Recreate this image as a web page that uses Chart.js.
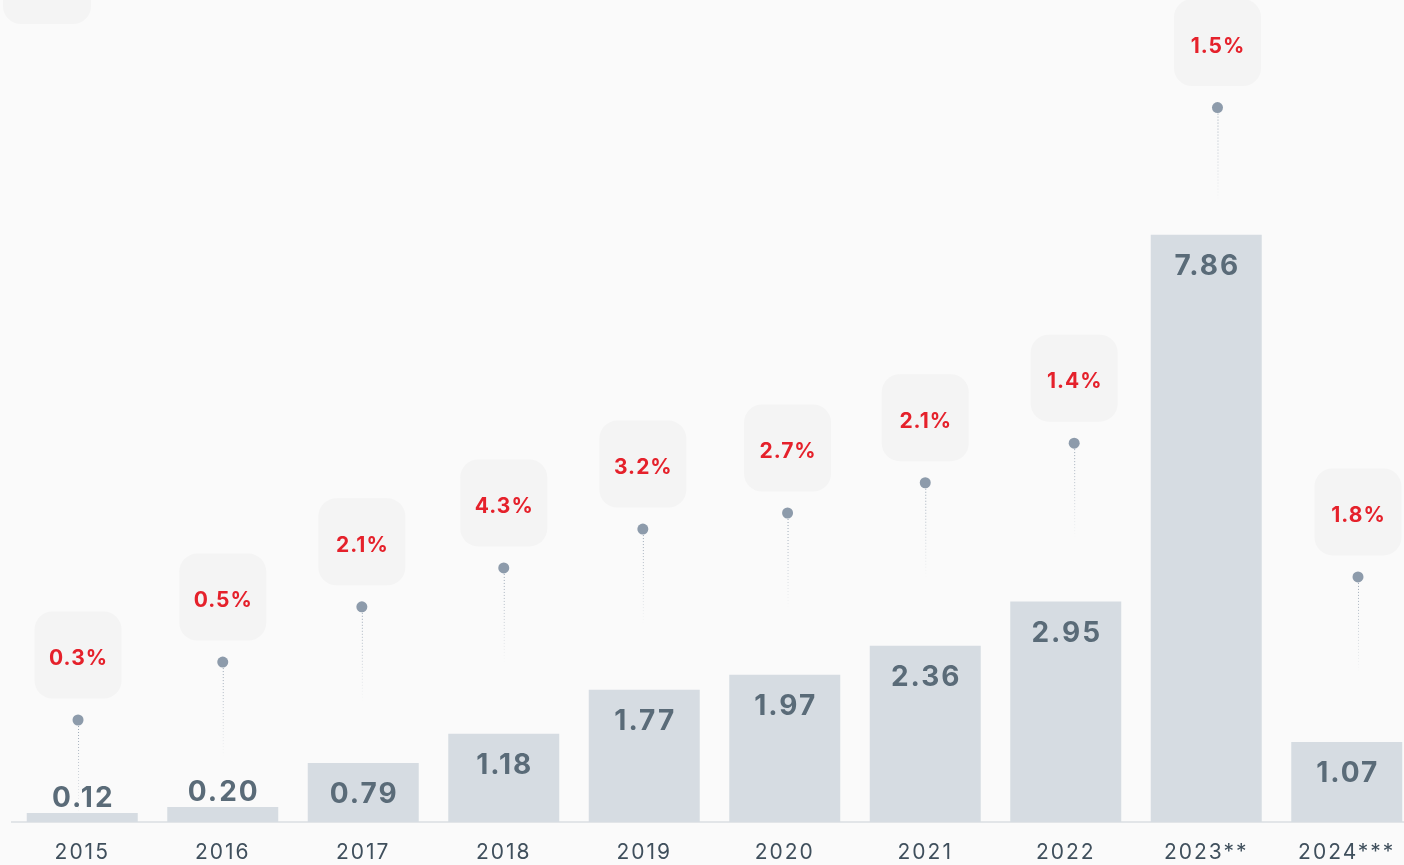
<!DOCTYPE html>
<html>
<head>
<meta charset="utf-8">
<title>Volume by year</title>
<script src="https://cdn.jsdelivr.net/npm/chart.js@4.4.1/dist/chart.umd.min.js"></script>
<style>
  html, body { margin: 0; padding: 0; background: #fafafa; overflow: hidden; }
  #wrap { position: relative; width: 1430px; height: 865px; }
</style>
</head>
<body>
<div id="wrap"><canvas id="barChart"></canvas></div>
<script>
// yearly values, growth share and where each marker pin sits
var years = ["2015", "2016", "2017", "2018", "2019", "2020", "2021", "2022", "2023**", "2024***"];
var volumes = [0.12, 0.20, 0.79, 1.18, 1.77, 1.97, 2.36, 2.95, 7.86, 1.07];
var shares = ["0.3%", "0.5%", "2.1%", "4.3%", "3.2%", "2.7%", "2.1%", "1.4%", "1.5%", "1.8%"];
var pinSlots = [-0.03, 1.0, 1.99, 3.0, 3.99, 5.02, 6.0, 7.06, 8.08, 9.08];
var pinLevels = [1.365, 2.14, 2.88, 3.40, 3.92, 4.135, 4.54, 5.07, 9.56, 3.28];

var pins = pinSlots.map(function(s, i) { return { x: s, y: pinLevels[i] }; });

var valueFont = "700 28px Inter, 'Open Sans', sans-serif";
var shareFont = "700 21px Inter, 'Open Sans', sans-serif";

function roundBox(ctx, x, y, w, h, r) {
  ctx.beginPath();
  ctx.moveTo(x + r, y);
  ctx.arcTo(x + w, y, x + w, y + h, r);
  ctx.arcTo(x + w, y + h, x, y + h, r);
  ctx.arcTo(x, y + h, x, y, r);
  ctx.arcTo(x, y, x + w, y, r);
  ctx.closePath();
}

// bubbles, dotted stems and the value labels
var decorations = {
  id: "decorations",
  beforeDraw: function(chart) {
    // wider tracking for the year labels
    chart.ctx.letterSpacing = "2px";
  },
  beforeDatasetsDraw: function(chart) {
    var ctx = chart.ctx;
    ctx.save();
    // leftover tab at the top corner
    ctx.fillStyle = "#f4f4f4";
    roundBox(ctx, 3, -64, 88, 88, 18);
    ctx.fill();

    var points = chart.getDatasetMeta(1).data;
    points.forEach(function(pt, i) {
      var x = pt.x, y = pt.y;
      // fading dotted stem under the pin
      var len = 95;
      var grad = ctx.createLinearGradient(0, y, 0, y + len);
      grad.addColorStop(0, "rgba(141,155,171,1)");
      grad.addColorStop(1, "rgba(141,155,171,0)");
      ctx.strokeStyle = grad;
      ctx.lineWidth = 1;
      ctx.setLineDash([1, 2]);
      ctx.beginPath();
      ctx.moveTo(x + 0.5, y);
      ctx.lineTo(x + 0.5, y + len);
      ctx.stroke();
      ctx.setLineDash([]);

      // share bubble above the pin
      var size = 87;
      var bottom = y - 21.5;
      ctx.fillStyle = "#f4f4f4";
      roundBox(ctx, x - size / 2, bottom - size, size, size, 18);
      ctx.fill();
      ctx.fillStyle = "#e5212b";
      ctx.font = shareFont;
      ctx.letterSpacing = "1px";
      ctx.textAlign = "center";
      ctx.textBaseline = "middle";
      ctx.fillText(shares[i], x + 0.5, bottom - size / 2 + 4);
    });
    ctx.restore();
  },
  afterDatasetsDraw: function(chart) {
    var ctx = chart.ctx;
    var bars = chart.getDatasetMeta(0).data;
    ctx.save();
    ctx.font = valueFont;
    ctx.letterSpacing = "2px";
    ctx.fillStyle = "#5a6b78";
    ctx.textAlign = "center";
    ctx.textBaseline = "middle";
    bars.forEach(function(bar, i) {
      var h = bar.base - bar.y;
      var ly = h > 40 ? bar.y + 30 : bar.y - 16;
      ctx.fillText(volumes[i].toFixed(2), bar.x + 1, ly + 2);
    });
    ctx.restore();
  }
};

new Chart("barChart", {
  type: "bar",
  data: {
    labels: years,
    datasets: [{
      data: volumes,
      xAxisID: "x",
      yAxisID: "y",
      grouped: false,
      backgroundColor: "#d6dce2",
      borderWidth: 0,
      categoryPercentage: 1,
      barPercentage: 0.79,
      order: 2
    }, {
      type: "line",
      data: pins,
      xAxisID: "slot",
      yAxisID: "y",
      showLine: false,
      pointRadius: 5.5,
      pointHoverRadius: 5.5,
      pointBackgroundColor: "#8d9bab",
      pointBorderWidth: 0,
      order: 1
    }]
  },
  options: {
    responsive: true,
    maintainAspectRatio: false,
    animation: false,
    layout: { autoPadding: false, padding: { left: 12, right: 13, top: 0, bottom: 0 } },
    plugins: {
      legend: { display: false },
      tooltip: { enabled: false }
    },
    scales: {
      x: {
        type: "category",
        afterFit: function(scale) { scale.height = 43; },
        grid: { display: false, drawTicks: false },
        border: { display: true, color: "#e2e5e8", width: 2 },
        ticks: {
          padding: 18,
          maxRotation: 0,
          color: "#3f4f5c",
          font: { family: "Inter, 'Open Sans', sans-serif", size: 21, weight: "400" }
        }
      },
      slot: {
        type: "linear",
        axis: "x",
        position: "bottom",
        display: false,
        offset: false,
        min: -0.5,
        max: 9.5
      },
      y: {
        display: false,
        min: 0,
        max: 11
      }
    }
  },
  plugins: [decorations]
});
</script>
</body>
</html>
